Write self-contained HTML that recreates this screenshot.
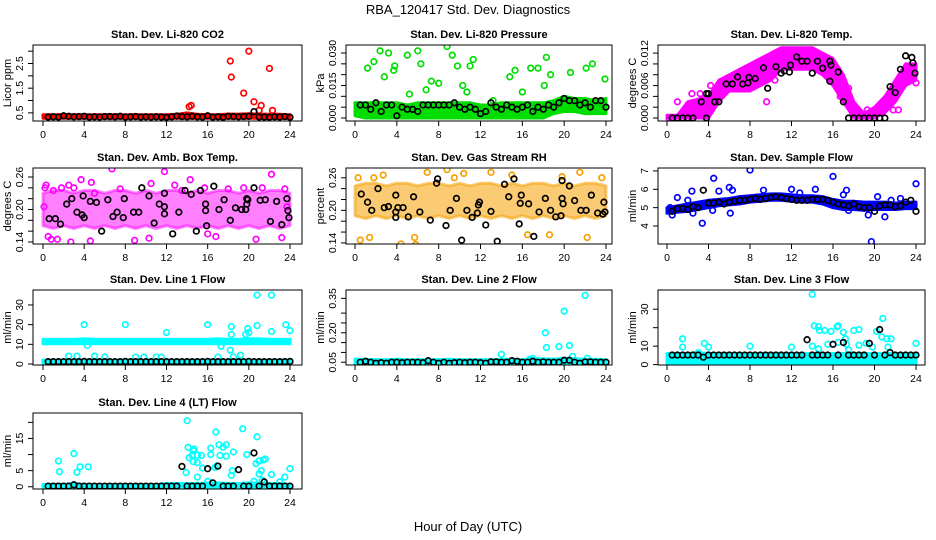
<!DOCTYPE html>
<html><head><meta charset="utf-8"><style>
html,body{margin:0;padding:0;background:#fff}
svg{display:block;font-family:"Liberation Sans",sans-serif}
</style></head><body>
<svg id="chart" width="936" height="540" viewBox="0 0 936 540">
<text x="468" y="14" text-anchor="middle" font-size="13">RBA_120417  Std. Dev. Diagnostics</text>
<text x="468" y="531" text-anchor="middle" font-size="13">Hour of Day (UTC)</text>
</svg>
<script>
const HOURS=[0,1,2,3,4,5,6,7,8,9,10,11,12,13,14,15,16,17,18,19,20,21,22,23,24];
const BX=[0.5,1,1.5,2,2.5,3,3.5,4,4.5,5,5.5,6,6.5,7,7.5,8,8.5,9,9.5,10,10.5,11,11.5,12,12.5,13,13.5,14,14.5,15,15.5,16,16.5,17,17.5,18,18.5,19,19.5,20,20.5,21,21.5,22,22.5,23,23.5,24];
const XTICKS=[0,4,8,12,16,20,24];

// Panel 1 CO2
const p1Lo=[0.28,0.28,0.28,0.28,0.28,0.28,0.28,0.28,0.28,0.28,0.28,0.28,0.28,0.28,0.28,0.28,0.28,0.28,0.28,0.28,0.28,0.28,0.28,0.28,0.28];
const p1Hi=[0.42,0.42,0.43,0.42,0.42,0.42,0.42,0.42,0.42,0.42,0.42,0.42,0.42,0.44,0.5,0.44,0.42,0.43,0.45,0.45,0.46,0.45,0.44,0.44,0.42];
const p1X=[18.2,18.3,20,19.5,20.5,21.2,21,22,22.3,14.2,14.4];
const p1Y=[2.6,1.95,3.0,1.3,0.95,0.8,0.6,2.3,0.6,0.75,0.8];
const p1BY=[0.33,0.34,0.33,0.38,0.36,0.34,0.35,0.36,0.33,0.34,0.33,0.35,0.35,0.34,0.36,0.33,0.34,0.35,0.33,0.34,0.33,0.34,0.33,0.32,0.34,0.37,0.35,0.34,0.36,0.34,0.33,0.38,0.33,0.34,0.32,0.36,0.35,0.34,0.35,0.36,0.55,0.33,0.33,0.32,0.34,0.33,0.35,0.32];
const p1Ticks=[0.5,1.0,1.5,2.0,2.5,3.0];
const p1TickLabels=["0.5","","1.5","","2.5",""];

// Panel 2 Pressure
const p2Lo=[0.001,0,0,0,0,0,0,0,0,0,0,0,0,0,0,0,0,0,0,0.002,0.003,0.003,0.002,0.002,0.002];
const p2Hi=[0.007,0.007,0.007,0.007,0.007,0.006,0.007,0.007,0.007,0.007,0.007,0.007,0.006,0.006,0.007,0.007,0.007,0.007,0.007,0.008,0.010,0.009,0.009,0.008,0.009];
const p2X=[1.2,1.8,2.4,2.8,3.2,3.7,3.8,5,5.2,6,6.3,6.8,7.3,8,8.8,9.3,9.8,10.3,10.7,11,11.3,13.2,14.8,15.3,16,16.8,17.5,18.1,18.3,18.7,20.6,22.1,22.7,23.9];
const p2Y=[0.023,0.026,0.031,0.019,0.030,0.022,0.024,0.029,0.011,0.031,0.025,0.013,0.017,0.016,0.033,0.029,0.024,0.015,0.012,0.024,0.027,0.008,0.019,0.022,0.012,0.023,0.023,0.015,0.028,0.020,0.021,0.023,0.025,0.018];
const p2BY=[0.006,0.006,0.004,0.007,0.003,0.006,0.006,0.001,0.005,0.004,0.004,0.003,0.006,0.006,0.006,0.006,0.006,0.006,0.007,0.005,0.004,0.005,0.004,0.002,0.003,0.007,0.005,0.004,0.006,0.005,0.004,0.005,0.006,0.003,0.005,0.004,0.006,0.005,0.007,0.009,0.008,0.008,0.006,0.007,0.005,0.008,0.008,0.005];
const p2Ticks=[0,0.005,0.010,0.015,0.020,0.025,0.030];
const p2TickLabels=["0.000","","","0.015","","","0.030"];

// Panel 3 Temp
const p3Lo=[0,0,0,0,0,0.003,0.005,0.005,0.005,0.006,0.007,0.009,0.009,0.009,0.009,0.008,0.006,0.003,0,0,0,0.001,0.003,0.006,0.007];
const p3Hi=[0.0005,0.0005,0.003,0.0035,0.004,0.007,0.008,0.009,0.010,0.011,0.012,0.013,0.013,0.013,0.013,0.012,0.011,0.008,0.003,0.0008,0.002,0.004,0.007,0.010,0.010];
const p3X=[0.2,1,2.4,3.2,4.2,4.8,7.2,7.8,9.6,10.4,16.2,16.7,17.5,19.3,21.8,22.3,24];
const p3Y=[0,0.003,0.0045,0.0045,0.006,0.0055,0.0085,0.009,0.003,0.007,0.0085,0.004,0.0055,0.0015,0.0015,0.0015,0.0065];
const p3BX=[0.5,1,1.5,2,2.5,3.3,3.8,3.8,4,4.6,5,5.7,6.3,6.8,7.3,7.8,7.9,8.5,9.3,9.7,10.5,11,11.3,11.8,11.9,12.5,13,13.5,14,14.5,15,15.7,15.8,15.7,16.5,17,17.5,18,18.5,19,19.5,20,20.5,21,21.5,22,22.5,23,23.6,23.7,23.9];
const p3BY=[0,0,0,0,0,0.003,0,0.0045,0.0045,0.003,0.003,0.0063,0.0063,0.0076,0.0063,0.0065,0.0075,0.0073,0.0093,0.0055,0.0095,0.0083,0.0087,0.0085,0.0098,0.0113,0.0105,0.0105,0.0083,0.0105,0.0092,0.0105,0.0098,0.0068,0.0085,0.003,0,0,0,0,0,0,0,0,0.0058,0.0047,0.009,0.0115,0.0112,0.0102,0.0083];
const p3Ticks=[0,0.002,0.004,0.006,0.008,0.010,0.012];
const p3TickLabels=["0.000","","","0.006","","","0.012"];

// Panel 4 Amb Box Temp
const p4Lo=[0.17,0.165,0.17,0.165,0.17,0.165,0.17,0.165,0.17,0.165,0.17,0.165,0.17,0.165,0.17,0.165,0.17,0.165,0.17,0.165,0.17,0.165,0.17,0.165,0.17];
const p4Hi=[0.23,0.235,0.235,0.23,0.235,0.235,0.23,0.235,0.235,0.23,0.235,0.23,0.235,0.235,0.23,0.235,0.23,0.235,0.235,0.23,0.235,0.23,0.235,0.235,0.23];
const p4X=[0.1,0.2,0.3,0.5,0.8,1,1.4,1.8,2.5,2.7,3,3.7,4.6,4.7,5,6.7,7.5,8.9,10.5,10.3,11.8,12.8,13.5,14.3,15.7,16,16.8,18,19.5,20.7,21.3,22.2,23.2,23.5,23.7];
const p4Y=[0.205,0.24,0.245,0.15,0.145,0.235,0.145,0.24,0.245,0.14,0.24,0.255,0.142,0.25,0.23,0.275,0.238,0.143,0.248,0.147,0.27,0.245,0.235,0.255,0.24,0.155,0.15,0.238,0.24,0.145,0.24,0.265,0.148,0.238,0.205];
const p4BX=[0.6,1.2,1.7,2.3,2.8,3.3,3.8,3.9,4,4.6,5.2,5.7,6.3,6.8,7.2,7.8,7.9,8.8,9.3,9.6,10.3,10.8,11.3,11.8,11.8,11.8,12.6,13.2,13.8,14.4,14.9,15.3,15.8,15.8,15.9,16.6,17.1,17.6,18.2,18.7,19.3,19.7,19.8,19.8,19.9,20.5,21.1,21.6,22.1,22.7,23.2,23.7,23.8,23.9];
const p4BY=[0.183,0.183,0.173,0.21,0.22,0.195,0.19,0.225,0.185,0.215,0.213,0.16,0.218,0.187,0.195,0.185,0.22,0.195,0.195,0.24,0.225,0.175,0.21,0.192,0.205,0.23,0.155,0.195,0.235,0.228,0.16,0.235,0.21,0.198,0.17,0.243,0.2,0.218,0.18,0.203,0.2,0.2,0.21,0.22,0.218,0.24,0.217,0.218,0.178,0.215,0.172,0.22,0.198,0.185];
const p4Ticks=[0.14,0.16,0.18,0.20,0.22,0.24,0.26];
const p4TickLabels=["0.14","","","0.20","","","0.26"];

// Panel 5 Gas Stream RH
const p5Lo=[0.19,0.185,0.19,0.185,0.19,0.185,0.19,0.185,0.19,0.185,0.19,0.185,0.19,0.185,0.19,0.185,0.19,0.185,0.19,0.185,0.19,0.185,0.19,0.185,0.19];
const p5Hi=[0.245,0.25,0.25,0.245,0.25,0.25,0.245,0.25,0.25,0.245,0.25,0.245,0.25,0.25,0.245,0.25,0.245,0.25,0.25,0.245,0.25,0.245,0.25,0.25,0.245];
const p5X=[0.5,1.4,2.7,4.4,5.7,5.8,6.9,8.8,10.4,13,15,19.8,21.5,22.2,23.6,0.3,1.8,9.5,16.5,18.6];
const p5Y=[0.145,0.15,0.265,0.138,0.15,0.137,0.27,0.275,0.268,0.27,0.265,0.262,0.27,0.15,0.26,0.26,0.26,0.26,0.155,0.155];
const p5BX=[0.6,1.2,1.6,2.2,2.8,3.2,3.9,3.9,3.9,4.1,4.6,5.1,5.6,6.2,7.2,7.8,7.9,8.7,9.1,9.7,10.2,10.7,11.2,11.7,11.8,11.9,12.5,13,13.6,14.3,14.7,15.2,15.7,15.8,15.9,16.6,17.1,17.6,18.2,18.7,19.2,19.7,19.8,19.9,19.8,20.5,21,21.6,22.1,22.6,23.2,23.7,23.8,23.9];
const p5BY=[0.23,0.215,0.2,0.24,0.205,0.207,0.228,0.197,0.187,0.205,0.205,0.188,0.225,0.197,0.182,0.25,0.258,0.172,0.2,0.222,0.145,0.2,0.187,0.195,0.21,0.215,0.173,0.198,0.143,0.248,0.225,0.258,0.175,0.213,0.228,0.212,0.152,0.197,0.222,0.2,0.188,0.19,0.222,0.212,0.255,0.245,0.218,0.2,0.2,0.228,0.195,0.193,0.215,0.197];
const p5Ticks=[0.14,0.16,0.18,0.20,0.22,0.24,0.26];
const p5TickLabels=["0.14","","","0.20","","","0.26"];

// Panel 6 Sample Flow
const p6Lo=[4.7,4.75,4.8,4.9,5.0,5.1,5.15,5.2,5.3,5.35,5.4,5.4,5.35,5.3,5.3,5.2,5.0,4.9,4.9,4.85,4.9,4.9,4.9,4.95,4.95];
const p6Hi=[5.0,5.1,5.2,5.3,5.4,5.45,5.5,5.6,5.65,5.7,5.75,5.75,5.7,5.65,5.65,5.6,5.45,5.35,5.35,5.3,5.3,5.3,5.25,5.3,5.3];
const p6X=[0.3,0.5,1,2,2.4,2.5,3.4,4.5,4.4,5,6,6.1,6.3,8,9.3,12,12.8,14.3,16,17.3,17,17.5,19.4,19.7,20.3,21,21.6,22.5,24];
const p6Y=[5.0,4.6,5.55,5.4,5.9,4.7,4.15,6.6,4.85,5.9,6.1,4.7,5.95,7.05,5.95,6.0,5.8,6.0,6.7,5.95,5.7,4.85,4.6,3.15,5.6,4.5,5.4,5.5,6.3];
const p6BY=[4.8,4.95,4.95,4.9,5.05,5.0,5.95,5.25,5.25,5.3,5.2,5.3,5.35,5.4,5.4,5.45,5.5,5.45,5.5,5.55,5.6,5.55,5.5,5.45,5.4,5.4,5.4,5.45,5.45,5.45,5.4,5.3,5.2,5.15,5.1,5.2,5.05,5.0,5.0,4.8,5.1,5.15,5.15,5.05,5.1,5.3,5.4,4.8];
const p6Ticks=[4,5,6,7];
const p6TickLabels=["4","5","6","7"];

// Panel 7 Line 1 Flow
const p7Lo=[10.3,10.3,10.3,10.3,10.3,10.3,10.3,10.3,10.3,10.3,10.3,10.3,10.3,10.3,10.3,10.3,10.3,10.3,10.3,10.3,10.3,10.3,10.3,10.3,10.3];
const p7Hi=[12.5,12.5,12.5,12.5,12.8,12.5,12.5,12.5,12.5,12.5,12.5,12.5,12.5,12.5,12.5,12.5,12.5,12.8,12.5,12.5,12.8,12.8,12.5,12.5,12.5];
const p7Lo2=[-0.3,-0.3,-0.3,-0.3,-0.3,-0.3,-0.3,-0.3,-0.3,-0.3,-0.3,-0.3,-0.3,-0.3,-0.3,-0.3,-0.3,-0.3,-0.3,-0.3,-0.3,-0.3,-0.3,-0.3,-0.3];
const p7Hi2=[2,2,2,2,2,2,2,2,2,2,2,2,2,2,2,2,2,2,2,2,2,2,2,2,2];
const p7X=[4,4.3,8,12,16,17.3,18.3,18.3,18.2,19.2,19.7,19.9,20,20.8,20.8,22.2,22.2,23.6,24,2.5,3.3,5,6,9,9.8,11,11.5,17,18.5];
const p7Y=[20,9.5,20,16,20,9,19,15,7,4.5,15,18,16,35,19.5,35,16.5,20,17,4,4,4,3.5,3.5,3.5,3.5,3.5,3.5,3.5];
const p7BY=[1.2,1.2,1.2,1.2,1.2,1.2,1.2,1.3,1.2,1.2,1.2,1.2,1.2,1.2,1.2,1.3,1.2,1.2,1.2,1.2,1.2,1.2,1.2,1.2,1.2,1.2,1.2,1.2,1.2,1.2,1.2,1.3,1.2,1.2,1.2,1.2,1.2,1.2,1.2,1.3,1.2,1.2,1.2,1.2,1.2,1.2,1.2,1.3];
const p7Ticks=[0,10,20,30];
const p7TickLabels=["0","10","20","30"];

// Panel 8 Line 2 Flow
const p8Lo=[0.035,0.035,0.035,0.035,0.035,0.035,0.035,0.035,0.035,0.035,0.035,0.035,0.035,0.035,0.035,0.035,0.035,0.035,0.035,0.035,0.035,0.035,0.035,0.035,0.035];
const p8Hi=[0.065,0.065,0.063,0.063,0.065,0.063,0.063,0.063,0.063,0.065,0.063,0.063,0.063,0.063,0.065,0.065,0.063,0.068,0.068,0.065,0.07,0.068,0.065,0.065,0.063];
const p8X=[14,17,18.2,18.3,19.5,20,20.5,20.8,22,22.2,16.7];
const p8Y=[0.09,0.07,0.2,0.125,0.13,0.31,0.135,0.08,0.39,0.07,0.065];
const p8BY=[0.05,0.055,0.05,0.045,0.048,0.045,0.05,0.05,0.048,0.05,0.05,0.05,0.048,0.058,0.05,0.045,0.05,0.045,0.048,0.05,0.048,0.05,0.05,0.048,0.045,0.052,0.052,0.05,0.05,0.058,0.055,0.05,0.05,0.055,0.05,0.052,0.05,0.05,0.05,0.06,0.06,0.05,0.045,0.052,0.052,0.05,0.05,0.05];
const p8Ticks=[0.05,0.10,0.15,0.20,0.25,0.30,0.375];
const p8TickLabels=["0.05","","","0.20","","","0.35"];

// Panel 9 Line 3 Flow
const p9Lo=[0.3,0.3,0.3,0.3,0.3,0.3,0.3,0.3,0.3,0.3,0.3,0.3,0.3,0.3,0.3,0.3,0.3,0.3,0.3,0.3,0.3,0.3,0.3,0.3,0.3];
const p9Hi=[6,6,6,6.5,6,6,6,6,6,6,6,6,6,6,6,6,6,6,6,6,6,6,6,6,6];
const p9X=[1.5,1.5,3,3.6,4,8,12,14,14.2,14.6,14.7,15.2,15.8,14,14.6,15.5,16.4,16.5,17,17.2,17.3,18,18.5,18.5,19.2,19.8,20.2,20.8,20.7,21.2,21.6,21.3,24,16.5,17.5];
const p9Y=[14,9.5,6.5,11.5,9.5,10,9.5,38,21,20.5,18.5,18.5,18,10,8.5,11,20.5,21,17.5,14,11,18.5,19,10.5,11.5,9.5,18,25,15,14,14,9.5,11.5,12,8];
const p9BY=[5.2,5.2,5.2,5.2,5.2,5.2,4,5.2,5.2,5.2,5.2,5.2,5.2,5.2,5.2,5.2,5.2,5.2,5.2,5.2,5.2,5.2,5.2,5.2,5.2,5.2,13.5,5.2,5.2,5.2,5.2,11,5.2,12,5.2,5.2,5.2,5.2,11.5,5.2,19,5.2,6.5,5.2,5.2,5.2,5.2,5.2];
const p9Ticks=[0,10,20,30];
const p9TickLabels=["0","10","","30"];

// Panel 10 Line 4 (LT) Flow
const p10Lo=[-0.3,-0.3,-0.3,-0.3,-0.3,-0.3,-0.3,-0.3,-0.3,-0.3,-0.3,-0.3,-0.3,-0.3,-0.3,-0.3,-0.3,-0.3,-0.3,-0.3,-0.3,-0.3,-0.3,-0.3,-0.3];
const p10Hi=[0.7,0.8,0.8,1,0.8,0.7,0.7,0.7,0.7,0.7,0.7,0.7,1,1,1,1,1.2,1.2,1,1,1.2,1.2,1,1,0.8];
const p10X=[1.5,1.6,3,3.3,3.6,4.4,14,14.1,14.2,14.5,14.6,14.7,14.6,15,15,15.4,15.5,13.9,15,16.3,16.3,16.7,16.8,16.9,17.1,17.2,17.5,17.8,17.8,18.3,18.4,18.5,19.4,19.8,20.7,20.8,21,21.2,21,21.4,21.6,22.2,23.5,24,20.5,21.3,23,16];
const p10Y=[8,4.7,10.3,4.5,6.2,6.2,20.5,12.2,9,9.7,7.8,11.7,11.2,7.5,9.8,9.7,5.8,4.4,3,12,10,6,17,6.5,13,9.7,12.3,13,9.5,3.5,5,10.8,18,10,7.2,15.5,4,5,8,8.3,8.6,3.8,3,5.6,1.7,2,1.5,1.7];
const p10BY=[0.2,0.2,0.2,0.2,0.2,0.6,0.2,0.2,0.2,0.2,0.2,0.2,0.2,0.2,0.2,0.2,0.2,0.2,0.2,0.2,0.2,0.2,0.2,0.2,0.2,0.2,6.3,0.2,0.2,0.2,0.2,5.6,1.2,6.4,0.2,0.2,0.2,5.3,0.2,0.2,10.5,0.2,1.5,0.2,0.2,0.2,0.2,0.2];
const p10Ticks=[0,5,10,15,20];
const p10TickLabels=["0","5","","15",""];

const COLS=[{l:33,r:302,x0:43,x24:290},{l:346,r:612,x0:355,x24:606},{l:658,r:925,x0:667,x24:916}];
const ROWS=[{t:45,b:121},{t:168,b:244},{t:290,b:365},{t:413,b:489}];

const panels=[
 {name:"co2",title:"Stan. Dev. Li-820 CO2",ylab:"Licor ppm",col:0,row:0,ymin:0.17,ymax:3.25,color:"#ff0000",op:1,lo:p1Lo,hi:p1Hi,px:p1X,py:p1Y,bx:BX,by:p1BY,ticks:p1Ticks,tl:p1TickLabels},
 {name:"pressure",title:"Stan. Dev. Li-820 Pressure",ylab:"kPa",col:1,row:0,ymin:-0.0014,ymax:0.0337,color:"#00dd00",op:1,lo:p2Lo,hi:p2Hi,px:p2X,py:p2Y,bx:BX,by:p2BY,ticks:p2Ticks,tl:p2TickLabels},
 {name:"temp",title:"Stan. Dev. Li-820 Temp.",ylab:"degrees C",col:2,row:0,ymin:-0.00055,ymax:0.0135,color:"#ff00ff",op:1,lo:p3Lo,hi:p3Hi,px:p3X,py:p3Y,bx:p3BX,by:p3BY,ticks:p3Ticks,tl:p3TickLabels},
 {name:"amb-box-temp",title:"Stan. Dev. Amb. Box Temp.",ylab:"degrees C",col:0,row:1,ymin:0.1363,ymax:0.2766,color:"#ff00ff",op:0.5,lo:p4Lo,hi:p4Hi,px:p4X,py:p4Y,bx:p4BX,by:p4BY,ticks:p4Ticks,tl:p4TickLabels},
 {name:"gas-stream-rh",title:"Stan. Dev. Gas Stream RH",ylab:"percent",col:1,row:1,ymin:0.138,ymax:0.278,color:"#f5a000",op:0.55,lo:p5Lo,hi:p5Hi,px:p5X,py:p5Y,bx:p5BX,by:p5BY,ticks:p5Ticks,tl:p5TickLabels},
 {name:"sample-flow",title:"Stan. Dev. Sample Flow",ylab:"ml/min",col:2,row:1,ymin:3.02,ymax:7.16,color:"#0000ff",op:1,lo:p6Lo,hi:p6Hi,px:p6X,py:p6Y,bx:BX,by:p6BY,ticks:p6Ticks,tl:p6TickLabels},
 {name:"line1-flow",title:"Stan. Dev. Line 1 Flow",ylab:"ml/min",col:0,row:2,ymin:-0.5,ymax:37.6,color:"#00ffff",op:1,lo:p7Lo,hi:p7Hi,lo2:p7Lo2,hi2:p7Hi2,px:p7X,py:p7Y,bx:BX,by:p7BY,ticks:p7Ticks,tl:p7TickLabels},
 {name:"line2-flow",title:"Stan. Dev. Line 2 Flow",ylab:"ml/min",col:1,row:2,ymin:0.036,ymax:0.4176,color:"#00ffff",op:1,lo:p8Lo,hi:p8Hi,px:p8X,py:p8Y,bx:BX,by:p8BY,ticks:p8Ticks,tl:p8TickLabels},
 {name:"line3-flow",title:"Stan. Dev. Line 3 Flow",ylab:"ml/min",col:2,row:2,ymin:-0.2,ymax:40.4,color:"#00ffff",op:1,lo:p9Lo,hi:p9Hi,px:p9X,py:p9Y,bx:BX,by:p9BY,ticks:p9Ticks,tl:p9TickLabels},
 {name:"line4-flow",title:"Stan. Dev. Line 4 (LT) Flow",ylab:"ml/min",col:0,row:3,ymin:-0.7,ymax:22.9,color:"#00ffff",op:1,lo:p10Lo,hi:p10Hi,px:p10X,py:p10Y,bx:BX,by:p10BY,ticks:p10Ticks,tl:p10TickLabels}
];

const NS="http://www.w3.org/2000/svg";
const svg=document.getElementById('chart');
function mk(tag,attrs,parent){const e=document.createElementNS(NS,tag);for(const k in attrs)e.setAttribute(k,attrs[k]);(parent||svg).appendChild(e);return e;}

panels.forEach(p=>{
  const C=COLS[p.col],R=ROWS[p.row];
  const xs=h=>C.x0+(h/24)*(C.x24-C.x0);
  const ys=v=>R.b-(v-p.ymin)/(p.ymax-p.ymin)*(R.b-R.t);
  const g=mk('g',{});
  
  
  const clipId='clip-'+p.name;
  const cp=mk('clipPath',{id:clipId},g);
  mk('rect',{x:C.l,y:R.t,width:C.r-C.l,height:R.b-R.t},cp);
  const plot=mk('g',{'clip-path':'url(#'+clipId+')'},g);
  function band(lo,hi,nm){
    let pts=HOURS.map((h,i)=>xs(h).toFixed(1)+','+ys(hi[i]).toFixed(1));
    for(let i=HOURS.length-1;i>=0;i--)pts.push(xs(HOURS[i]).toFixed(1)+','+ys(lo[i]).toFixed(1));
    const pg=mk('polygon',{points:pts.join(' '),fill:p.color,'fill-opacity':p.op,stroke:p.color,'stroke-width':3,'stroke-linejoin':'round','stroke-opacity':p.op},plot);
    
    
  }
  band(p.lo,p.hi,p.name+'-dense-band');
  if(p.lo2)band(p.lo2,p.hi2,p.name+'-dense-band-low');
  p.px.forEach((x,i)=>{
    const c=mk('circle',{cx:xs(x),cy:ys(p.py[i]),r:2.8,fill:'none',stroke:p.color,'stroke-width':1.7},plot);
    
    
  });
  p.bx.forEach((x,i)=>{
    const c=mk('circle',{cx:xs(x),cy:ys(p.by[i]),r:2.8,fill:'none',stroke:'#000','stroke-width':1.7},plot);
    
    
  });
  const box=mk('rect',{x:C.l,y:R.t,width:C.r-C.l,height:R.b-R.t,fill:'none',stroke:'#000','stroke-width':1},g);
  
  
  const xa=mk('g',{},g);
  
  
  mk('line',{x1:xs(0),x2:xs(24),y1:R.b,y2:R.b,stroke:'#000'},xa);
  XTICKS.forEach(t=>{
    mk('line',{x1:xs(t),x2:xs(t),y1:R.b,y2:R.b+5,stroke:'#000'},xa);
    const tx=mk('text',{x:xs(t),y:R.b+17,'text-anchor':'middle','font-size':10.5},xa);
    tx.textContent=t;
  });
  const ya=mk('g',{},g);
  
  
  const t0=p.ticks[0],t1=p.ticks[p.ticks.length-1];
  mk('line',{x1:C.l,x2:C.l,y1:ys(t0),y2:ys(t1),stroke:'#000'},ya);
  p.ticks.forEach((t,i)=>{
    mk('line',{x1:C.l-5,x2:C.l,y1:ys(t),y2:ys(t),stroke:'#000'},ya);
    if(p.tl[i]){
      const yy=ys(t),xx=C.l-10;
      const tx=mk('text',{x:xx,y:yy,'text-anchor':'middle','font-size':10.5,transform:'rotate(-90 '+xx+' '+yy+')'},ya);
      tx.textContent=p.tl[i];
    }
  });
  const yc=(R.t+R.b)/2,yx=C.l-22;
  const yl=mk('text',{x:yx,y:yc,'text-anchor':'middle','font-size':11,transform:'rotate(-90 '+yx+' '+yc+')'},g);
  yl.textContent=p.ylab;
  
  
  const tt=mk('text',{x:(C.l+C.r)/2,y:R.t-7,'text-anchor':'middle','font-size':11,'font-weight':'bold'},g);
  tt.textContent=p.title;
  
  
});
</script>
</body></html>
